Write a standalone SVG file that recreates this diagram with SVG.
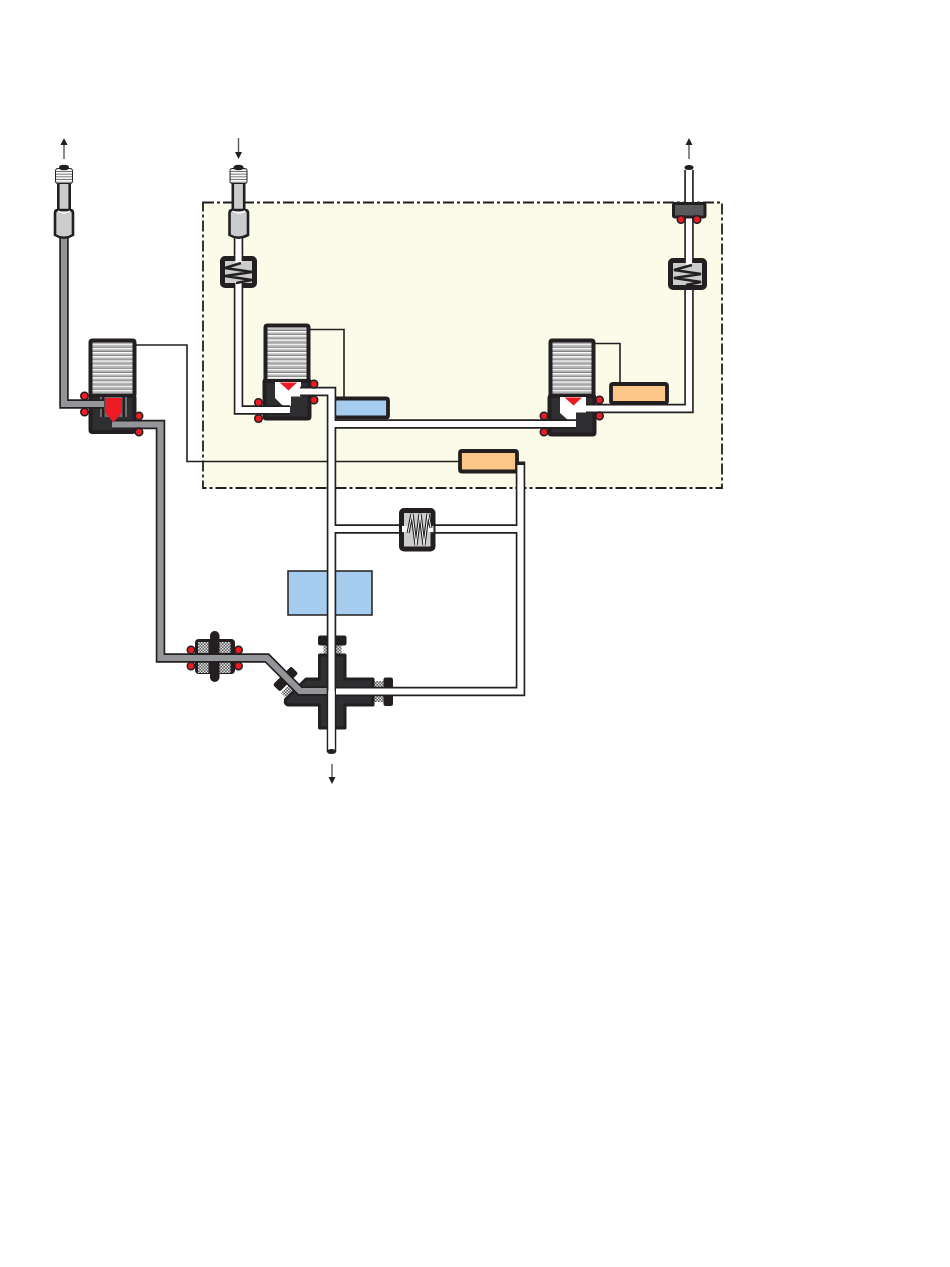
<svg xmlns="http://www.w3.org/2000/svg" width="950" height="1267" viewBox="0 0 950 1267">
<style>
.k{stroke:#231f20;stroke-linejoin:round;stroke-linecap:round}
.wire{fill:none;stroke:#231f20;stroke-width:1.6;stroke-linejoin:miter}
.to{fill:none;stroke:#231f20;stroke-width:9.500;stroke-linejoin:miter;stroke-linecap:butt}
.tw{fill:none;stroke:#fff;stroke-width:6.200;stroke-linejoin:miter;stroke-linecap:butt}
.tg{fill:none;stroke:#939598;stroke-width:6.200;stroke-linejoin:miter;stroke-linecap:butt}
.ring{fill:#ed1c24;stroke:#231f20;stroke-width:1.6}
.coil{fill:url(#thr);stroke:#231f20;stroke-width:4}
.body{fill:#2f2f31;stroke:#231f20;stroke-width:4;stroke-linejoin:round}
.red{fill:#ed1c24}
.nut{fill:#cbcccd;stroke:#231f20;stroke-width:2.600}
.th{fill:url(#thr2);stroke:#231f20;stroke-width:1}
.sp{fill:#cbcccd;stroke:#231f20;stroke-width:5}
.zz{fill:none;stroke:#231f20;stroke-width:2.400}
.zk{fill:none;stroke:#231f20;stroke-width:3.200}
.zw{fill:none;stroke:#fff;stroke-width:1}
.arr{stroke:#58595b;stroke-width:1.400;fill:none}
.ah{fill:#231f20}
.hat{fill:url(#hat)}
.dk{fill:#231f20}
.bl{fill:#a6cdef}
.or{fill:#fdc689}
</style>
<defs>
<pattern id="thr" width="46" height="4.200" patternUnits="userSpaceOnUse">
<rect width="46" height="4.200" fill="#fff"/><rect y=".5" width="46" height="2.600" fill="#b4b5b7"/><rect y="2.500" width="46" height=".7" fill="#6d6e71"/>
</pattern>
<pattern id="thr2" width="20" height="2.700" patternUnits="userSpaceOnUse">
<rect width="20" height="2.700" fill="#fff"/><rect y=".8" width="20" height="1" fill="#6d6e71"/>
</pattern>
<pattern id="hat" width="3" height="3" patternUnits="userSpaceOnUse">
<rect width="3" height="3" fill="#58595b"/><rect width="1.500" height="1.500" fill="#e6e7e8"/><rect x="1.500" y="1.500" width="1.500" height="1.500" fill="#e6e7e8"/>
</pattern>
</defs>
<rect width="950" height="1267" fill="#fff"/>
<rect id="zone" x="203" y="202.500" width="519" height="285.500" fill="#fafbe9" stroke="#231f20" stroke-width="1.800" stroke-dasharray="11 3 3 3"/>
<g id="big-tank"><rect x="288" y="571" width="84" height="44" class="bl" stroke="#231f20" stroke-width="1.500"/></g>
<g id="tank-blue"><rect x="333" y="398.500" width="55" height="19" rx="2" class="bl k" stroke-width="3.800"/></g>
<g id="tank-orange-1"><rect x="611" y="384" width="56" height="19" rx="2" class="or k" stroke-width="3.800"/></g>
<g id="tank-orange-2"><rect x="460" y="451" width="57" height="20.500" rx="2" class="or k" stroke-width="3.800"/></g>
<g id="valve-1">
<rect x="90.500" y="396" width="44" height="36" class="body" rx="2"/>
<rect x="90.500" y="340.500" width="44" height="55.500" class="coil" rx="2"/>
<rect x="100" y="397" width="27" height="20" fill="#6d6e71"/>
<rect x="102" y="397" width="2.500" height="20" class="dk"/><rect x="122.500" y="397" width="2.500" height="20" class="dk"/>
</g>
<g id="valve-2">
<rect x="264.500" y="380" width="45" height="38.500" class="body" rx="2"/>
<rect x="265.500" y="325.500" width="43" height="55.500" class="coil" rx="2"/>
<path d="M275 382H301V396.500H291V406H283L275 398Z" fill="#fff"/>
</g>
<g id="valve-3">
<rect x="549.500" y="396" width="45" height="38.500" class="body" rx="2"/>
<rect x="550.500" y="340.500" width="43" height="55.500" class="coil" rx="2"/>
<path d="M560 397H586V412.500H576V420H568L560 413Z" fill="#fff"/>
</g>
<g id="filter">
<rect x="196" y="640" width="38" height="33" rx="3" class="dk k" stroke-width="2"/>
<rect x="210" y="631" width="9.500" height="51" rx="4.700" class="dk"/>
<rect x="198" y="642" width="10.500" height="11" class="hat"/><rect x="219.500" y="642" width="11" height="11" class="hat"/>
<rect x="198" y="662" width="10.500" height="11" class="hat"/><rect x="219.500" y="662" width="11" height="11" class="hat"/>
</g>
<g id="four-port-valve">
<rect x="323.500" y="645" width="18" height="10" class="hat"/>
<rect x="374" y="681" width="10" height="21" class="hat"/>
<path d="M281 693L292 682L301 691L290 702Z" class="hat"/>
<rect x="318" y="635.500" width="28.500" height="10" rx="2" class="dk"/>
<rect x="383.500" y="677.500" width="9.500" height="28.500" rx="2" class="dk"/>
<rect x="-13" y="-5" width="26" height="10" rx="2" transform="translate(285.500 679) rotate(-45)" class="dk"/>
<path d="M319.500 655H345V679H373V705H345V728H319.500V705H288Q284.500 704 285.500 699.500L306 679H319.500Z" fill="#2f2f31" stroke="#231f20" stroke-width="3" stroke-linejoin="round"/>
</g>
<g id="connectors">
<path class="wire" d="M135 345H187V461.500H460M310 329.500H344V398M595 343.500H620V384"/>
<path class="to" d="M64 236V404H104"/><path class="to" d="M112 424.500H160.500V658H267L300 691H331"/>
<path class="tg" d="M64 236V404H104"/><path class="tg" d="M112 424.500H160.500V658H267L300 691H331"/>
<path class="to" d="M238.500 235V410H290M300 391.500H331.500V752M331.500 424H576M331.500 529H520.500M520.500 461.500V691.500H331.500M586 408.500H689V170"/>
<path class="tw" d="M238.500 235V410H290M300 391.500H331.500V752M331.500 424H576M331.500 529H520.500M520.500 465V691.500H336M586 408.500H689V170"/>
<path d="M331.500 691V752" stroke="#fff" stroke-width="6.200"/>
<ellipse cx="331.500" cy="751.500" rx="4.500" ry="2.500" class="dk"/>
<ellipse cx="689" cy="167.500" rx="4.500" ry="2.500" class="dk"/>
</g>
<g id="valve-1-top">
<path d="M105 398H122V412.500L113.500 422.500L105 412.500Z" class="red"/>
<circle cx="84.500" cy="396" r="3.700" class="ring"/><circle cx="84.500" cy="412" r="3.700" class="ring"/><circle cx="139" cy="416" r="3.700" class="ring"/><circle cx="139" cy="432" r="3.700" class="ring"/>
</g>
<g id="valve-2-top">
<path d="M279.500 382.500H297L288.500 390.500Z" class="red"/>
<circle cx="314" cy="384" r="3.700" class="ring"/><circle cx="314" cy="400" r="3.700" class="ring"/><circle cx="258.500" cy="402.500" r="3.700" class="ring"/><circle cx="258.500" cy="418.500" r="3.700" class="ring"/>
</g>
<g id="valve-3-top">
<path d="M564.500 397.500H582L573.500 405.500Z" class="red"/>
<circle cx="599.500" cy="400" r="3.700" class="ring"/><circle cx="599.500" cy="416" r="3.700" class="ring"/><circle cx="544" cy="416" r="3.700" class="ring"/><circle cx="544" cy="432" r="3.700" class="ring"/>
</g>
<g id="filter-rings">
<circle cx="191" cy="650" r="3.700" class="ring"/><circle cx="191" cy="666" r="3.700" class="ring"/><circle cx="238.500" cy="650" r="3.700" class="ring"/><circle cx="238.500" cy="666" r="3.700" class="ring"/>
</g>
<g id="spring-1">
<rect x="222.500" y="258.500" width="32" height="27" rx="2.500" class="sp"/>
<rect x="235.400" y="255" width="6.200" height="8.500" fill="#fff"/><rect x="235.400" y="281" width="6.200" height="7" fill="#fff"/>
<path class="zz" d="M241 263L225 268L252 272L225 276L252 280L236 283"/>
</g>
<g id="spring-2">
<rect x="670.500" y="260.500" width="34" height="27" rx="2.500" class="sp"/>
<rect x="685.900" y="257" width="6.200" height="8" fill="#fff"/>
<path class="zz" d="M692 265L674 270L701 274L674 278L701 282L686 285"/>
</g>
<g id="spring-3">
<rect x="401.500" y="510.500" width="31.500" height="38.500" rx="2.500" class="sp"/>
<rect x="402" y="525.900" width="7" height="6.200" fill="#fff"/><rect x="428" y="525.900" width="5.500" height="6.200" fill="#fff"/>
<path class="zk" d="M408 533L412 514L416 545L420 514L424 545L428 514L431 528"/>
<path class="zw" d="M408 533L412 514L416 545L420 514L424 545L428 514L431 528"/>
</g>
<g id="vent-fitting">
<rect x="673.500" y="203.500" width="31.500" height="13.500" rx="1.500" fill="#58595b" stroke="#231f20" stroke-width="3"/>
<circle cx="681" cy="219.500" r="3.700" class="ring"/><circle cx="697" cy="219.500" r="3.700" class="ring"/>
</g>
<g id="fitting-1">
<rect x="58.300" y="178" width="11.400" height="34" class="nut"/>
<rect x="55.500" y="168.500" width="17" height="15" rx="2" class="th"/>
<ellipse cx="64" cy="167.500" rx="5" ry="2.800" class="dk"/>
<path d="M55 213Q55 210 58 210H70Q73 210 73 213V235Q64 240.500 55 235Z" class="nut"/>
<path d="M58 211Q64 215 70 211" fill="none" stroke="#fff" stroke-width="1.500"/>
</g>
<g id="fitting-2">
<rect x="232.800" y="178" width="11.400" height="34" class="nut"/>
<rect x="230" y="168.500" width="17" height="15" rx="2" class="th"/>
<ellipse cx="238.500" cy="167.500" rx="5" ry="2.800" class="dk"/>
<path d="M229.500 213Q229.500 210 232.500 210H245Q248 210 248 213V235Q238.500 240.500 229.500 235Z" class="nut"/>
<path d="M232.500 211Q238.500 215 245 211" fill="none" stroke="#fff" stroke-width="1.500"/>
</g>
<g id="flow-arrows">
<path class="arr" d="M64 159V142M238.500 138V155M689 159V142M332 764V779"/>
<path class="ah" d="M60.500 145L64 138L67.500 145ZM235 152L238.500 159L242 152ZM685.500 145L689 138L692.500 145ZM328.500 777L332 784L335.500 777Z"/>
</g>
</svg>
